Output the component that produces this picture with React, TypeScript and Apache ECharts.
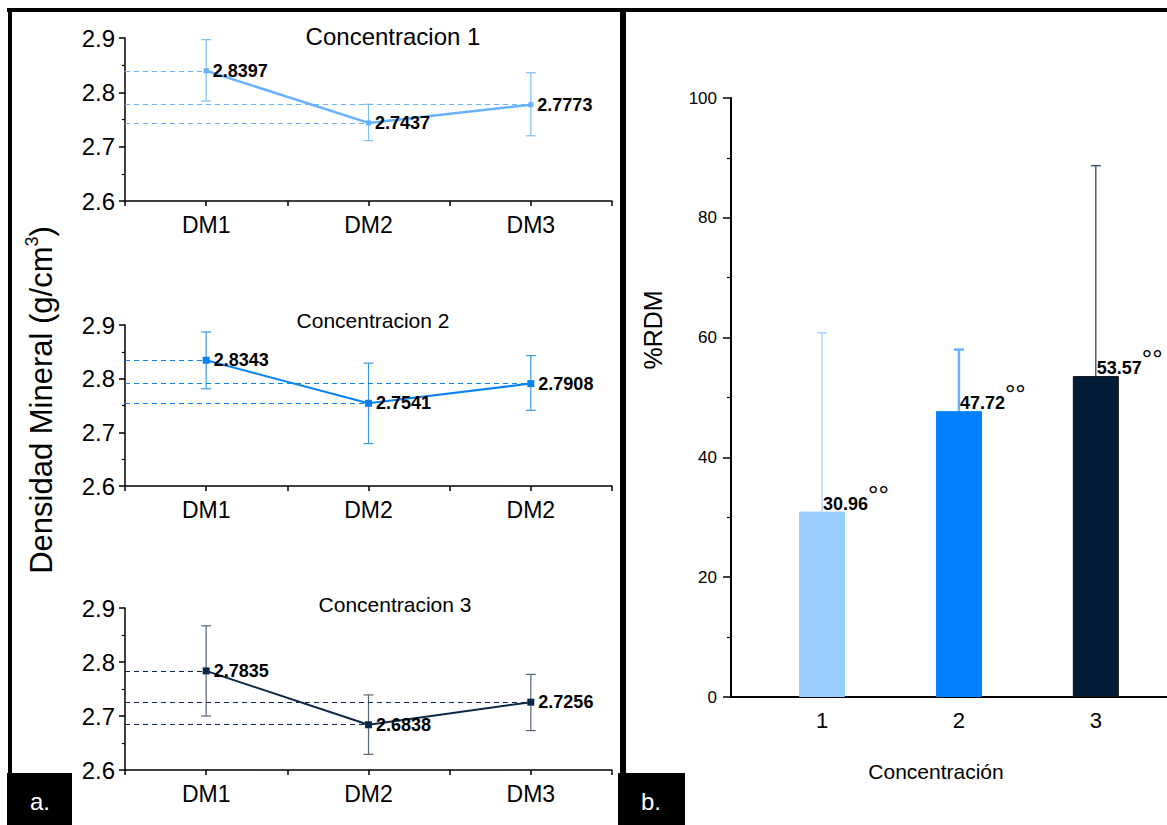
import React, { useEffect, useRef } from "react";
import * as echarts from "echarts";

const FONT = "'Liberation Sans', Arial, Helvetica, sans-serif";

// ---------- Panel a: Densidad Mineral ----------
const dmCats1 = ["DM1", "DM2", "DM3"];
const dmCats2 = ["DM1", "DM2", "DM2"];
const dmCats3 = ["DM1", "DM2", "DM3"];
const conc1 = [2.8397, 2.7437, 2.7773];
const conc1Lo = [2.784, 2.711, 2.72];
const conc1Hi = [2.897, 2.778, 2.836];
const conc2 = [2.8343, 2.7541, 2.7908];
const conc2Lo = [2.781, 2.679, 2.741];
const conc2Hi = [2.887, 2.829, 2.843];
const conc3 = [2.7835, 2.6838, 2.7256];
const conc3Lo = [2.7, 2.629, 2.673];
const conc3Hi = [2.867, 2.739, 2.777];
const dmYMin = 2.6;
const dmYMax = 2.9;
const dmYStep = 0.1;
const panelTitles = ["Concentracion 1", "Concentracion 2", "Concentracion 3"];

// ---------- Panel b: %RDM ----------
const rdmCats = ["1", "2", "3"];
const rdmValues = [30.96, 47.72, 53.57];
const rdmErrHi = [60.8, 58.0, 88.7];
const rdmMarks = ["°°", "°°", "°°"];
const rdmYMax = 100;
const rdmYStep = 20;

const panels = [
  { cats: dmCats1, vals: conc1, lo: conc1Lo, hi: conc1Hi, color: "#66b2ff", err: "#7fbdff", sym: 5, lw: 2.5, top: 38, height: 163, title: panelTitles[0], tx: 393, ty: 36, tfs: 24 },
  { cats: dmCats2, vals: conc2, lo: conc2Lo, hi: conc2Hi, color: "#0a82f5", err: "#3a98f5", sym: 7, lw: 2, top: 325, height: 161, title: panelTitles[1], tx: 373, ty: 320, tfs: 21 },
  { cats: dmCats3, vals: conc3, lo: conc3Lo, hi: conc3Hi, color: "#0c2747", err: "#55657a", sym: 7, lw: 2, top: 608, height: 162, title: panelTitles[2], tx: 395, ty: 604, tfs: 21 },
];

const barColors = ["#99ccff", "#0080ff", "#021d38"];
const barErrColors = ["#99ccff", "#66b2ff", "#1d3a5c"];
const barErrWidths = [1.2, 2.5, 1.2];

function buildOption(): any {
  const grid: any[] = [];
  const xAxis: any[] = [];
  const yAxis: any[] = [];
  const series: any[] = [];

  panels.forEach((p, i) => {
    grid.push({ left: 125, width: 487, top: p.top, height: p.height });
    xAxis.push({
      type: "value",
      gridIndex: i,
      min: 0.5,
      max: 3.5,
      interval: 0.5,
      axisLine: { show: true, onZero: false, lineStyle: { color: "#000", width: 1.5 } },
      axisTick: { show: true, length: 5, lineStyle: { color: "#000", width: 1.5 } },
      axisLabel: {
        formatter: (v: number) => (Number.isInteger(v) ? p.cats[v - 1] ?? "" : ""),
        fontSize: 23,
        color: "#000",
        fontFamily: FONT,
        margin: 12,
        showMinLabel: true,
        showMaxLabel: true,
      },
      splitLine: { show: false },
    });
    yAxis.push({
      type: "value",
      gridIndex: i,
      min: dmYMin,
      max: dmYMax,
      interval: dmYStep,
      axisLine: { show: true, lineStyle: { color: "#000", width: 1.5 } },
      axisTick: { show: true, length: 6, lineStyle: { color: "#000", width: 1.5 } },
      minorTick: { show: true, splitNumber: 2, length: 3, lineStyle: { color: "#000", width: 1.2 } },
      axisLabel: {
        formatter: (v: number) => v.toFixed(1),
        fontSize: 24,
        color: "#000",
        fontFamily: FONT,
        margin: 10,
      },
      splitLine: { show: false },
      minorSplitLine: { show: false },
    });
    series.push({
      type: "custom",
      xAxisIndex: i,
      yAxisIndex: i,
      z: 2,
      silent: true,
      encode: { x: 0, y: [1, 2] },
      data: p.vals.map((_, k) => [k + 1, p.lo[k], p.hi[k]]),
      renderItem: (_params: any, api: any) => {
        const x = api.value(0);
        const a = api.coord([x, api.value(1)]);
        const b = api.coord([x, api.value(2)]);
        const w = 5;
        const st = { stroke: p.err, lineWidth: 1.2 };
        return {
          type: "group",
          children: [
            { type: "line", shape: { x1: a[0], y1: a[1], x2: b[0], y2: b[1] }, style: st },
            { type: "line", shape: { x1: a[0] - w, y1: a[1], x2: a[0] + w, y2: a[1] }, style: st },
            { type: "line", shape: { x1: b[0] - w, y1: b[1], x2: b[0] + w, y2: b[1] }, style: st },
          ],
        };
      },
    });
    series.push({
      type: "line",
      xAxisIndex: i,
      yAxisIndex: i,
      z: 4,
      data: p.vals.map((v, k) => [k + 1, v]),
      symbol: "rect",
      symbolSize: p.sym,
      lineStyle: { color: p.color, width: p.lw },
      itemStyle: { color: p.color },
      label: {
        show: true,
        position: "right",
        distance: 4,
        formatter: (d: any) => d.value[1].toFixed(4),
        fontSize: 18,
        fontWeight: "bold",
        color: "#000",
        fontFamily: FONT,
      },
      markLine: {
        silent: true,
        symbol: "none",
        label: { show: false },
        lineStyle: { color: p.color, type: [5, 4], width: 1.2 },
        data: p.vals.map((v, k) => [{ coord: [0.5, v] }, { coord: [k + 1, v] }]),
      },
    });
  });

  // Bar chart grid
  const bi = 3;
  grid.push({ left: 731, right: 0, top: 98, height: 599 });
  xAxis.push({
    type: "value",
    gridIndex: bi,
    min: 0.335,
    max: 3.52,
    axisLine: { show: true, onZero: false, lineStyle: { color: "#000", width: 2 } },
    axisTick: { show: false },
    axisLabel: {
      customValues: [1, 2, 3],
      formatter: (v: number) => rdmCats[Math.round(v) - 1] ?? "",
      fontSize: 22,
      color: "#000",
      fontFamily: FONT,
      margin: 12,
    },
    splitLine: { show: false },
  });
  yAxis.push({
    type: "value",
    gridIndex: bi,
    min: 0,
    max: rdmYMax,
    interval: rdmYStep,
    axisLine: { show: true, lineStyle: { color: "#000", width: 2 } },
    axisTick: { show: true, length: 8, lineStyle: { color: "#000", width: 1.5 } },
    minorTick: { show: true, splitNumber: 2, length: 4, lineStyle: { color: "#000", width: 1.2 } },
    axisLabel: { fontSize: 17, color: "#000", fontFamily: FONT, margin: 14 },
    splitLine: { show: false },
    minorSplitLine: { show: false },
  });
  series.push({
    type: "custom",
    xAxisIndex: bi,
    yAxisIndex: bi,
    z: 1,
    silent: true,
    encode: { x: 0, y: [1, 2] },
    data: rdmValues.map((v, k) => [k + 1, v, rdmErrHi[k]]),
    renderItem: (params: any, api: any) => {
      const k = params.dataIndex;
      const x = api.value(0);
      const a = api.coord([x, api.value(1)]);
      const b = api.coord([x, api.value(2)]);
      const w = 5;
      const st = { stroke: barErrColors[k], lineWidth: barErrWidths[k] };
      return {
        type: "group",
        children: [
          { type: "line", shape: { x1: a[0], y1: a[1], x2: b[0], y2: b[1] }, style: st },
          { type: "line", shape: { x1: b[0] - w, y1: b[1], x2: b[0] + w, y2: b[1] }, style: st },
        ],
      };
    },
  });
  series.push({
    type: "bar",
    xAxisIndex: bi,
    yAxisIndex: bi,
    z: 3,
    barWidth: 46,
    data: rdmValues.map((v, k) => ({
      value: [k + 1, v],
      itemStyle: { color: barColors[k], borderColor: k === 2 ? "#111" : barColors[k], borderWidth: 1 },
    })),
    label: {
      show: true,
      position: ["50%", 0],
      align: "left",
      verticalAlign: "bottom",
      offset: [1, 1],
      formatter: (d: any) => `{v|${rdmValues[d.dataIndex].toFixed(2)}}{d|${rdmMarks[d.dataIndex]}}`,
      rich: {
        v: { fontSize: 18, fontWeight: "bold", color: "#000", fontFamily: FONT, verticalAlign: "bottom" },
        d: { fontSize: 26, color: "#000", fontFamily: FONT, padding: [0, 0, 5, 0], verticalAlign: "bottom" },
      },
    },
  });

  const txt = (x: number, y: number, text: string, fontSize: number, extra: any = {}) => ({
    type: "text",
    x,
    y,
    style: {
      text,
      fontSize,
      fontFamily: FONT,
      fill: extra.fill ?? "#000",
      align: "center",
      verticalAlign: "middle",
      textAlign: "center",
      textVerticalAlign: "middle",
    },
  });

  const graphic: any[] = [
    { type: "rect", shape: { x: 7, y: 8, width: 1160, height: 4 }, style: { fill: "#000" } },
    { type: "rect", shape: { x: 8, y: 8, width: 4, height: 766 }, style: { fill: "#000" } },
    { type: "rect", shape: { x: 620, y: 8, width: 6, height: 766 }, style: { fill: "#000" } },
    { type: "rect", shape: { x: 7, y: 773, width: 65, height: 52 }, style: { fill: "#000" } },
    { type: "rect", shape: { x: 618, y: 773, width: 67, height: 52 }, style: { fill: "#000" } },
    txt(40, 801, "a.", 24, { fill: "#fff" }),
    txt(651, 801, "b.", 24, { fill: "#fff" }),
    ...panels.map((p) => txt(p.tx, p.ty, p.title, p.tfs)),
    {
      type: "text",
      x: 40,
      y: 400,
      rotation: Math.PI / 2,
      style: {
        text: "{a|Densidad Mineral (g/cm}{s|3}{a|)}",
        align: "center",
        verticalAlign: "middle",
        textAlign: "center",
        textVerticalAlign: "middle",
        rich: {
          a: { fontSize: 31, fontFamily: FONT, fill: "#000", color: "#000", verticalAlign: "bottom" },
          s: { fontSize: 18, fontFamily: FONT, fill: "#000", color: "#000", padding: [0, 0, 16, 0], verticalAlign: "bottom" },
        },
      },
    },
    { type: "text", x: 653, y: 330, rotation: Math.PI / 2, style: { text: "%RDM", fontSize: 25, fontFamily: FONT, fill: "#000", align: "center", verticalAlign: "middle", textAlign: "center", textVerticalAlign: "middle" } },
    txt(936, 771, "Concentración", 21),
  ];

  return {
    animation: false,
    backgroundColor: "#fff",
    grid,
    xAxis,
    yAxis,
    series,
    graphic,
  };
}

export default function App() {
  const ref = useRef<HTMLDivElement>(null);
  useEffect(() => {
    document.body.style.margin = "0";
    const chart = echarts.init(ref.current!, null, { renderer: "svg" });
    chart.setOption(buildOption());
    return () => chart.dispose();
  }, []);
  return <div ref={ref} style={{ width: 1167, height: 825 }} />;
}
